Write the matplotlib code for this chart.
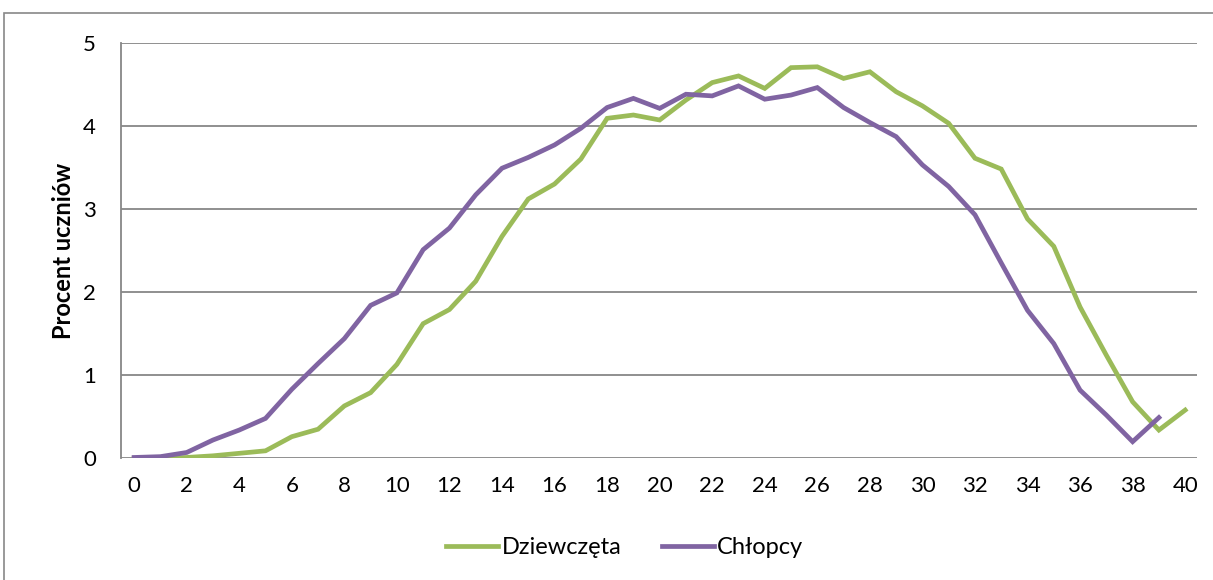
import numpy as np
import matplotlib.pyplot as plt
from matplotlib.patches import Rectangle

plt.rcParams['font.family'] = ['Lato', 'DejaVu Sans']

# Wiek / kategorie na osi X
kategorie = list(range(0, 41))

# Procent uczniow
dziewczeta = [0.00, 0.00, 0.01, 0.03, 0.06, 0.09, 0.26, 0.35, 0.63, 0.79,
              1.13, 1.62, 1.79, 2.13, 2.67, 3.12, 3.30, 3.60, 4.09, 4.13,
              4.07, 4.31, 4.52, 4.60, 4.45, 4.70, 4.71, 4.57, 4.65, 4.41,
              4.24, 4.03, 3.61, 3.48, 2.88, 2.55, 1.82, 1.24, 0.68, 0.34,
              0.58]
chlopcy = [0.01, 0.02, 0.07, 0.22, 0.34, 0.48, 0.83, 1.14, 1.44, 1.84,
           1.99, 2.51, 2.77, 3.17, 3.49, 3.62, 3.77, 3.97, 4.22, 4.33,
           4.21, 4.38, 4.36, 4.48, 4.32, 4.37, 4.46, 4.22, 4.04, 3.87,
           3.53, 3.27, 2.93, 2.35, 1.78, 1.38, 0.82, 0.52, 0.20, 0.49]

kolor_dz = '#9BBB59'
kolor_ch = '#8064A2'

fig = plt.figure(figsize=(12.13, 5.8), dpi=100)
ax = fig.add_axes([121/1213, 1 - 458.3/580, (1197 - 121)/1213, (458.3 - 42.7)/580])

# ramka wykresu (jak w Excelu)
fig.patches.append(Rectangle((4/1213, -0.05), 1.2, 1 - 13/580 + 0.05,
                             transform=fig.transFigure, fill=False,
                             edgecolor='#888888', lw=1.2))

ax.plot(kategorie, dziewczeta, color=kolor_dz, lw=3.4, label='Dziewczęta',
        solid_joinstyle='miter', zorder=3)
ax.plot(kategorie[:len(chlopcy)], chlopcy, color=kolor_ch, lw=3.4, label='Chłopcy',
        solid_joinstyle='miter', zorder=4)

ax.set_xlim(-0.5, 40.45)
ax.set_ylim(0, 5)
ax.set_yticks(range(0, 6))
ax.set_xticks(range(0, 41, 2))
ax.yaxis.grid(True, color='#878787', lw=1.3)
ax.set_axisbelow(True)
for s in ['top', 'right', 'bottom']:
    ax.spines[s].set_visible(False)
ax.spines['left'].set_color('#878787')
ax.spines['left'].set_linewidth(1.3)
ax.tick_params(axis='both', length=0, labelsize=16, colors='black')
ax.tick_params(axis='y', pad=18)
ax.tick_params(axis='x', pad=13)

ax.set_ylabel('Procent uczniów', fontsize=17, fontweight='bold', labelpad=6)

ax.legend(loc='center', bbox_to_anchor=(0.515, (580 - 548) / 580), bbox_transform=fig.transFigure,
          ncol=2, frameon=False, fontsize=17, handlelength=2.2, handletextpad=0.15,
          columnspacing=1.7)

fig.savefig('out.png', dpi=100)
